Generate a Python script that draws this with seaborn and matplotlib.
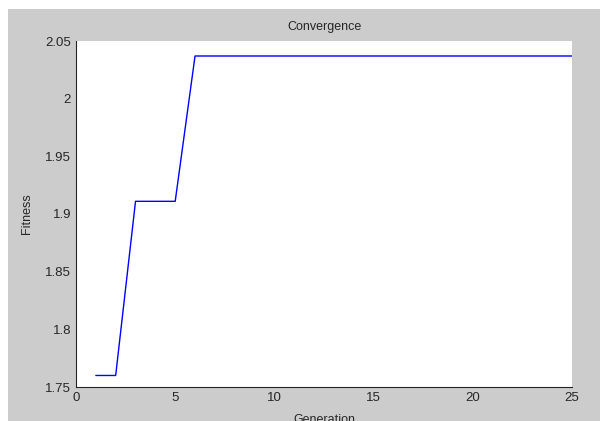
import numpy as np
import pandas as pd
import matplotlib
matplotlib.use("Agg")
import matplotlib.pyplot as plt
from matplotlib.patches import Rectangle
import seaborn as sns

# Best fitness per generation
generation = list(range(1, 26))
fitness = [1.76, 1.76, 1.911, 1.911, 1.911] + [2.037] * 20

df = pd.DataFrame({"Generation": generation, "Fitness": fitness})

sns.set_style("white")
plt.rcParams["font.family"] = ["Liberation Sans", "DejaVu Sans"]

fig = plt.figure(figsize=(6.0, 4.21), dpi=100, facecolor="white")
# grey MATLAB-like figure window, white strip on top and left
fig.patches.append(Rectangle((8 / 600, 0), 1, (421 - 9) / 421, transform=fig.transFigure,
                             facecolor="#cccccc", edgecolor="none", zorder=-10))
ax = fig.add_axes([76 / 600, (421 - 387) / 421, (572 - 76) / 600, (387 - 41) / 421])
ax.set_facecolor("white")

sns.lineplot(data=df, x="Generation", y="Fitness", ax=ax, color="#0000ff", linewidth=1.0)

ax.set_xlim(0, 25)
ax.set_ylim(1.75, 2.05)
ax.set_xticks([0, 5, 10, 15, 20, 25])
ax.set_xticklabels(["0", "5", "10", "15", "20", "25"])
ax.set_yticks([1.75, 1.8, 1.85, 1.9, 1.95, 2.0, 2.05])
ax.set_yticklabels(["1.75", "1.8", "1.85", "1.9", "1.95", "2", "2.05"])

for side in ["top", "right"]:
    ax.spines[side].set_visible(False)
for side in ["left", "bottom"]:
    ax.spines[side].set_color("#262626")
    ax.spines[side].set_linewidth(0.8)

ax.tick_params(direction="in", length=4, width=0.8, color="#262626",
               labelsize=9.5, labelcolor="#262626", pad=3.5)
ax.set_title("Convergence", fontsize=9, color="#262626", pad=8)
ax.set_xlabel("Generation", fontsize=9, color="#262626", labelpad=7)
ax.set_ylabel("Fitness", fontsize=9, color="#262626", labelpad=9)

fig.savefig("out.png", dpi=100, facecolor=fig.get_facecolor())
